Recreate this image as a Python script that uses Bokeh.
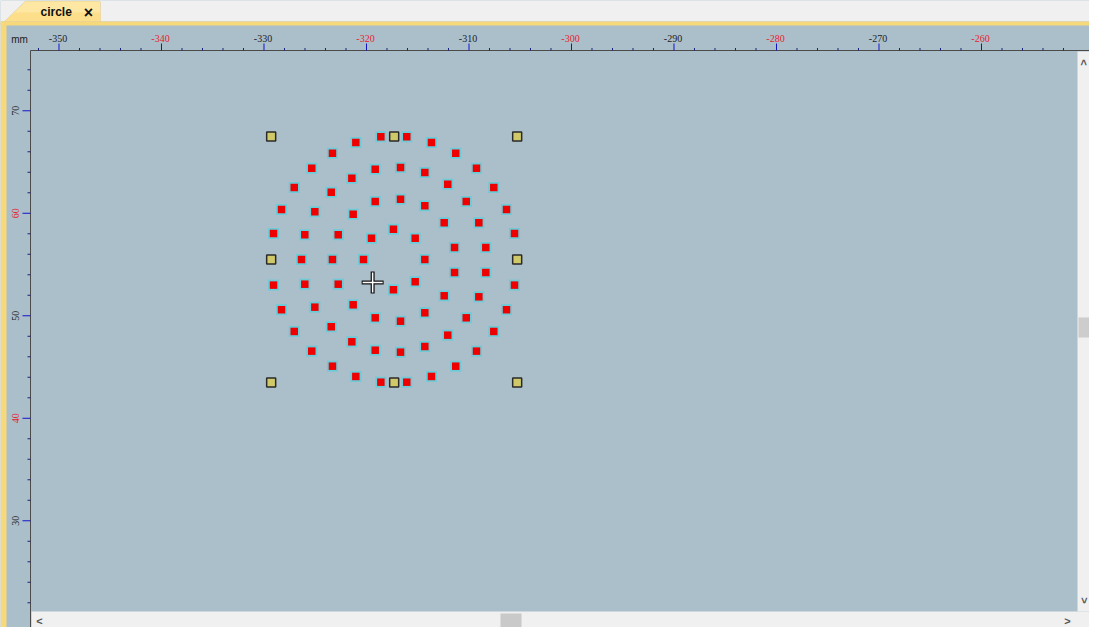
from math import pi
from bokeh.plotting import figure
from bokeh.models import Range1d, BoxAnnotation, Label, ColumnDataSource, PolyAnnotation
from bokeh.embed import file_html
from bokeh.resources import INLINE

# ---------------- data (mm) ----------------
x_major = [-350, -340, -330, -320, -310, -300, -290, -280, -270, -260]
x_minor = [v for v in range(-352, -250, 2) if v % 10 != 0]
y_major = [30, 40, 50, 60, 70]
y_minor = [v for v in range(22, 76, 2) if v % 10 != 0]

dot_x_upper = [-318.60, -316.07, -321.04, -313.66, -323.32, -311.29, -325.34, -319.15, -316.68, -314.31,
               -309.27, -321.43, -312.07, -327.05, -307.58, -323.44, -319.15, -316.68, -314.31, -310.27,
               -328.29, -325.04, -321.30, -306.34, -312.42, -309.04, -317.37, -329.07, -326.02, -322.76,
               -319.51, -315.25, -305.56, -311.41, -308.36, -326.34, -323.32, -320.29, -314.31]
dot_y_upper = [67.46, 67.46, 66.91, 66.91, 65.86, 65.86, 64.40, 64.30, 64.47, 63.98,
               64.40, 63.42, 62.84, 62.52, 62.52, 62.06, 61.15, 61.38, 60.73, 61.15,
               60.37, 60.15, 59.91, 60.37, 59.07, 59.07, 58.45, 58.03, 57.90, 57.90,
               57.57, 57.57, 58.03, 56.66, 56.66, 55.49, 55.49, 55.49, 55.49]
dot_x_lower = [-311.41, -308.36, -329.07, -326.02, -322.76, -317.37, -315.25, -305.56, -312.42, -309.04,
               -328.29, -325.04, -321.30, -314.31, -306.34, -319.15, -316.68, -310.27, -327.05, -323.44,
               -312.07, -307.58, -321.43, -314.31, -319.15, -316.68, -325.34, -309.27, -323.32, -311.29,
               -321.04, -313.66, -318.60, -316.07]
dot_y_lower = [54.22, 54.22, 52.99, 53.08, 53.08, 52.54, 53.32, 52.99, 51.95, 51.85,
               50.59, 50.84, 51.07, 50.29, 50.59, 49.80, 49.47, 49.80, 48.47, 48.93,
               48.11, 48.47, 47.46, 47.00, 46.64, 46.45, 46.55, 46.55, 45.08, 45.08,
               44.08, 44.08, 43.52, 43.52]

handle_x = [-329.3, -317.3, -305.3, -329.3, -305.3, -329.3, -317.3, -305.3]
handle_y = [67.5, 67.5, 67.5, 55.5, 55.5, 43.5, 43.5, 43.5]
cursor_x = [-319.4]
cursor_y = [53.25]

# ---------------- geometry / style ----------------
W, H = 1089, 627
PX = 1 / 10.25          # mm per screen pixel (drawing scale)
X_RULER = -352.78       # data x of the left ruler line
Y_RULER = 75.88         # data y of the top ruler line
RULER_L, RULER_T = 30, 50   # ruler lines in canvas pixels

BG = "#abbfcb"
BAR = "#f0f0f0"
YEL = "#f7d87b"
FONT = "Liberation Sans"
RED_LBL = "#e5232d"
BLK_LBL = "#1e1e1e"

p = figure(width=W, height=H, output_backend="svg", toolbar_location=None,
           x_range=Range1d(X_RULER - RULER_L * PX, X_RULER + (W - RULER_L) * PX),
           y_range=Range1d(Y_RULER - (H - RULER_T) * PX, Y_RULER + RULER_T * PX),
           x_axis_type=None, y_axis_type=None, min_border=0,
           background_fill_color=BG, border_fill_color=BG, outline_line_color=None)
p.grid.visible = False

# ---------------- rulers ----------------
p.segment(x0=[X_RULER], y0=[Y_RULER], x1=[p.x_range.end], y1=[Y_RULER],
          line_color="#4a4a4a", line_width=1)
p.segment(x0=[X_RULER], y0=[Y_RULER], x1=[X_RULER], y1=[p.y_range.start],
          line_color="#4a4a4a", line_width=1)

p.ray(x=x_major, y=Y_RULER, length=7, length_units="screen", angle=pi / 2,
      line_color="#1414c8", line_width=1)
p.ray(x=x_minor, y=Y_RULER, length=2.5, length_units="screen", angle=pi / 2,
      line_color="#202078", line_width=1)
p.ray(x=X_RULER, y=y_major, length=8, length_units="screen", angle=pi,
      line_color="#1414c8", line_width=1)
p.ray(x=X_RULER, y=y_minor, length=3, length_units="screen", angle=pi,
      line_color="#202078", line_width=1)

xlab = ColumnDataSource(dict(x=x_major, y=[Y_RULER] * len(x_major),
                             t=[str(v) for v in x_major],
                             c=[RED_LBL if v % 20 == 0 else BLK_LBL for v in x_major]))
p.text(x="x", y="y", text="t", text_color="c", source=xlab, x_offset=-1, y_offset=-12,
       text_align="center", text_baseline="alphabetic",
       text_font=FONT, text_font_size="10px")
ylab = ColumnDataSource(dict(x=[X_RULER] * len(y_major), y=y_major,
                             t=[str(v) for v in y_major],
                             c=[RED_LBL if v % 20 == 0 else BLK_LBL for v in y_major]))
p.text(x="x", y="y", text="t", text_color="c", source=ylab, x_offset=-15, angle=pi / 2,
       text_align="center", text_baseline="alphabetic",
       text_font=FONT, text_font_size="10px")

# ---------------- marks ----------------
src = ColumnDataSource(dict(x=dot_x_upper + dot_x_lower, y=dot_y_upper + dot_y_lower))
p.scatter("x", "y", source=src, marker="square", size=11, fill_color="#2fd8e6",
          fill_alpha=0.5, line_color=None)
p.scatter("x", "y", source=src, marker="square", size=7.5, fill_color="#ee0000",
          line_color=None)
p.scatter(handle_x, handle_y, marker="square", size=9, fill_color="#cfc96a",
          line_color="#2a2a2a", line_width=1.5)
p.scatter(cursor_x, cursor_y, marker="cross", size=22, line_color="#111111", line_width=4)
p.scatter(cursor_x, cursor_y, marker="cross", size=20, line_color="#ffffff", line_width=1.5)

# ---------------- window chrome ----------------
def box(l, r, t, b, color):
    p.add_layout(BoxAnnotation(left=l, right=r, top=t, bottom=b,
                               left_units="canvas", right_units="canvas",
                               top_units="canvas", bottom_units="canvas",
                               fill_color=color, fill_alpha=1, line_color=None))

box(0, W, 0, 21, BAR)
box(0, W, 21, 25, YEL)
box(0, 6, 21, H, YEL)
box(1077, W, 51, 611, BAR)
box(1078, W, 317, 337, "#cdcdcd")
box(31, W, 611, H, BAR)
box(500, 521, 613, H, "#c9c9c9")

p.add_layout(PolyAnnotation(xs=[4, 25, 99, 100, 100], ys=[21, 0.5, 0.5, 2, 21],
                            xs_units="canvas", ys_units="canvas",
                            fill_color="#fde7a2", fill_alpha=1,
                            line_color="#b9ab80", line_width=1))
p.add_layout(PolyAnnotation(xs=[14, 100, 100, 4], ys=[12, 12, 21, 21],
                            xs_units="canvas", ys_units="canvas",
                            fill_color="#fbdc86", fill_alpha=0.8, line_color=None))

def lbl(x, y, text, size, color, bold=False, angle=0, align="center"):
    p.add_layout(Label(x=x, y=y, x_units="canvas", y_units="canvas", text=text,
                       angle=angle, text_font=FONT,
                       text_font_style="bold" if bold else "normal",
                       text_font_size=size, text_align=align,
                       text_baseline="middle", text_color=color))

lbl(40, 11, "circle", "12px", "#101010", bold=True, align="left")
lbl(88, 12, "×", "16px", "#101010", bold=True)
lbl(19, 39, "mm", "10px", "#202020")

# scrollbar arrows
lbl(1083, 62, "<", "11px", "#555555", bold=True, angle=-pi / 2)
lbl(1083, 600, "<", "11px", "#555555", bold=True, angle=pi / 2)
lbl(39, 620, "<", "11px", "#555555", bold=True)
lbl(1067, 620, ">", "11px", "#555555", bold=True)

open("out.html", "w").write(file_html(p, INLINE))
